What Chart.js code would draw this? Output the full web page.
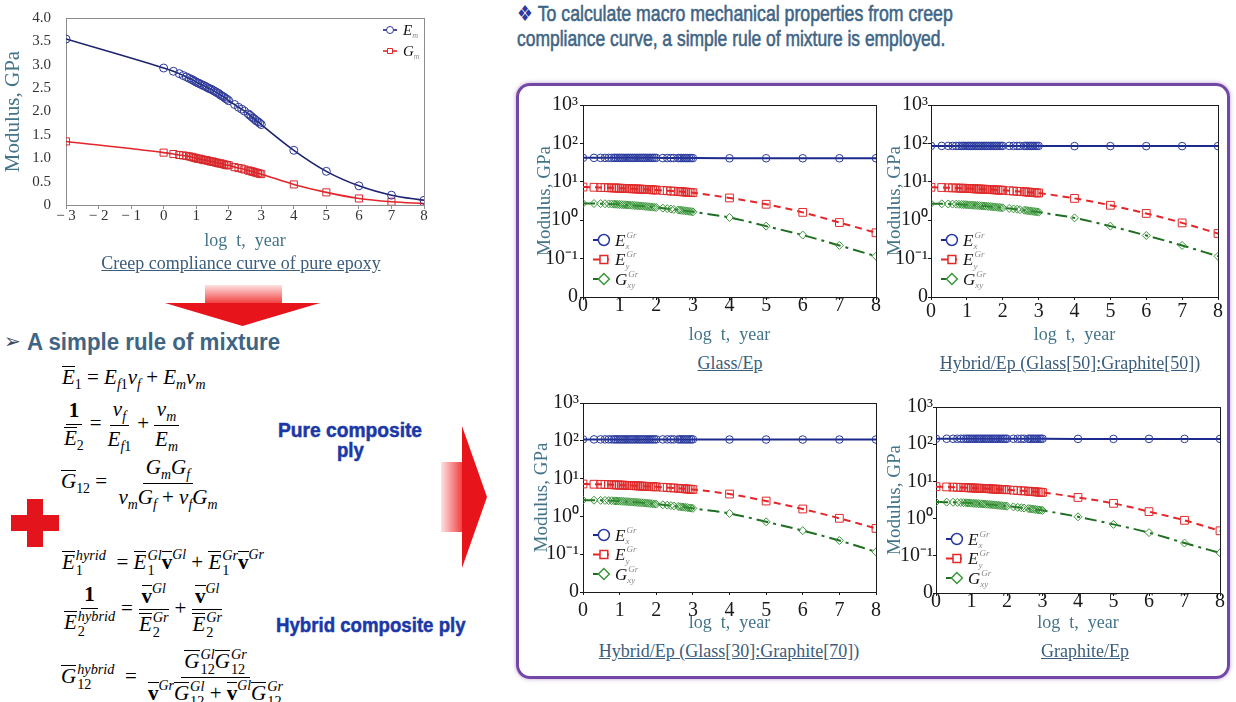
<!DOCTYPE html>
<html>
<head>
<meta charset="utf-8">
<script src="https://cdn.jsdelivr.net/npm/chart.js@4.4.1/dist/chart.umd.min.js"></script>
<style>
  body { margin: 0; width: 1236px; height: 702px; position: relative; overflow: hidden; background: #fff; font-family: "Liberation Serif", serif; }
  canvas { position: absolute; }
  .abs { position: absolute; }
  .fit { position: absolute; white-space: nowrap; line-height: 1; transform-origin: 0 0; font-family: "Liberation Sans", Arial, sans-serif; }
  .head { color: #3f6585; font-size: 22px; -webkit-text-stroke: 0.6px #3f6585; }
  .ply { color: #1b38a8; font-size: 20px; font-weight: bold; -webkit-text-stroke: 0.5px #1b38a8; }
  .cap { position: absolute; width: 400px; text-align: center; font-size: 18px; color: #3b5d7b; text-decoration: underline; white-space: nowrap; }
  .eq { position: absolute; font-size: 21px; color: #000; white-space: nowrap; line-height: 1; }
  .ob { display: inline-block; border-top: 1px solid #000; line-height: 0.95; padding-top: 1px; font-style: italic; }
  b.ob { font-style: normal; }
  .eq sub { font-size: 0.66em; vertical-align: -0.35em; }
  .eq sup { font-size: 0.66em; vertical-align: 0.7em; }
  .fr { display: inline-flex; flex-direction: column; align-items: center; vertical-align: middle; margin: 0 3px; }
  .fr > span { padding: 0 3px; line-height: 1.25; }
  .fr > span:first-child { border-bottom: 1px solid #000; }
  .tight > span { line-height: 1.12; }
  .ss { display: inline-flex; flex-direction: column; font-size: 0.68em; line-height: 1.05; vertical-align: 0.6em; margin-left: 1px; }
  .box { position: absolute; left: 516px; top: 83px; width: 708px; height: 590px; border: 3px solid #7447a6; border-radius: 14px; box-shadow: 0 0 4px rgba(116,71,166,0.5); }
</style>
</head>
<body>

<!-- headings -->
<div class="fit head" style="left:517px;top:3px;" data-fit="436"><span style="color:#2b3aa0;-webkit-text-stroke:0;">&#10070;</span> To calculate macro mechanical properties from creep</div>
<div class="fit head" style="left:517px;top:28px;" data-fit="428">compliance curve, a simple rule of mixture is employed.</div>
<div class="fit" style="left:4px;top:331px;font-size:20px;color:#3a4a60;">&#10146;</div>
<div class="fit head" style="left:27px;top:331px;font-size:23px;font-weight:bold;-webkit-text-stroke:0;" data-fit="253">A simple rule of mixture</div>

<!-- arrows and cross -->
<div class="abs" style="left:205px;top:285px;width:77px;height:19px;background:linear-gradient(#fde2e2,#f23a3a);"></div>
<div class="abs" style="left:165px;top:303px;width:155px;height:23px;background:#e8141c;clip-path:polygon(0 0,100% 0,50% 100%);"></div>
<div class="abs" style="left:441px;top:462px;width:22px;height:70px;background:linear-gradient(90deg,#fde2e2,#f23a3a);"></div>
<div class="abs" style="left:462px;top:426px;width:25px;height:142px;background:#e8141c;clip-path:polygon(0 0,100% 50%,0 100%);"></div>
<div class="abs" style="left:27px;top:499px;width:16px;height:48px;background:#e3141c;"></div>
<div class="abs" style="left:11px;top:515px;width:48px;height:16px;background:#e3141c;"></div>

<!-- formulas -->
<div class="eq" style="left:62px;top:366px;">
  <span class="ob">E</span><sub>1</sub> = <i>E</i><sub><i>f</i>1</sub><i>v</i><sub><i>f</i></sub> + <i>E</i><sub><i>m</i></sub><i>v</i><sub><i>m</i></sub>
</div>
<div class="eq" style="left:58px;top:396px;">
  <span class="fr"><span><b>1</b></span><span><span class="ob">E</span><sub>2</sub></span></span>=<span class="fr"><span><i>v</i><sub><i>f</i></sub></span><span><i>E</i><sub><i>f</i>1</sub></span></span>+<span class="fr"><span><i>v</i><sub><i>m</i></sub></span><span><i>E</i><sub><i>m</i></sub></span></span>
</div>
<div class="eq" style="left:61px;top:454px;">
  <span class="ob">G</span><sub>12</sub> = <span class="fr"><span><i>G</i><sub><i>m</i></sub><i>G</i><sub><i>f</i></sub></span><span><i>v</i><sub><i>m</i></sub><i>G</i><sub><i>f</i></sub> + <i>v</i><sub><i>f</i></sub><i>G</i><sub><i>m</i></sub></span></span>
</div>
<div class="eq" style="left:62px;top:548px;">
  <span class="ob">E</span><span class="ss"><i>hyrid</i><span>1</span></span> &nbsp;= <span class="ob">E</span><span class="ss"><i>Gl</i><span>1</span></span><b class="ob">v</b><sup><i>Gl</i></sup> + <span class="ob">E</span><span class="ss"><i>Gr</i><span>1</span></span><b class="ob">v</b><sup><i>Gr</i></sup>
</div>
<div class="eq" style="left:58px;top:580px;">
  <span class="fr"><span><b>1</b></span><span><span class="ob">E</span><span class="ss"><i>hybrid</i><span>2</span></span></span></span>=<span class="fr"><span><b class="ob">v</b><sup><i>Gl</i></sup></span><span><span class="ob">E</span><span class="ss"><i>Gr</i><span>2</span></span></span></span>+<span class="fr"><span><b class="ob">v</b><sup><i>Gl</i></sup></span><span><span class="ob">E</span><span class="ss"><i>Gr</i><span>2</span></span></span></span>
</div>
<div class="eq" style="left:61px;top:647px;">
  <span class="ob">G</span><span class="ss"><i>hybrid</i><span>12</span></span> &nbsp;= <span class="fr tight"><span><span class="ob">G</span><span class="ss"><i>Gl</i><span>12</span></span><span class="ob">G</span><span class="ss"><i>Gr</i><span>12</span></span></span><span><b class="ob">v</b><sup><i>Gr</i></sup><span class="ob">G</span><span class="ss"><i>Gl</i><span>12</span></span> + <b class="ob">v</b><sup><i>Gl</i></sup><span class="ob">G</span><span class="ss"><i>Gr</i><span>12</span></span></span></span>
</div>

<div class="fit ply" style="left:278px;top:420px;" data-fit="144">Pure composite</div>
<div class="fit ply" style="left:337px;top:440px;" data-fit="27">ply</div>
<div class="fit ply" style="left:276px;top:614px;font-size:21px;" data-fit="190">Hybrid composite ply</div>

<div class="box"></div>

<canvas id="epoxyChart"></canvas>
<canvas id="glassChart"></canvas>
<canvas id="hyb50Chart"></canvas>
<canvas id="hyb30Chart"></canvas>
<canvas id="graphiteChart"></canvas>

<div class="cap" style="left:41px;top:253px;">Creep compliance curve of pure epoxy</div>
<div class="cap" style="left:530px;top:353px;">Glass/Ep</div>
<div class="cap" style="left:870px;top:353px;">Hybrid/Ep (Glass[50]:Graphite[50])</div>
<div class="cap" style="left:529px;top:641px;">Hybrid/Ep (Glass[30]:Graphite[70])</div>
<div class="cap" style="left:885px;top:641px;">Graphite/Ep</div>

<script>
// condensed headline text: squeeze each line to its width in the slide
document.querySelectorAll('[data-fit]').forEach(el => {
  const k = (+el.dataset.fit) / el.scrollWidth;
  el.style.transform = 'scaleX(' + k + ')';
});

// ---- pure epoxy creep curve ----
const epoxyLogT = [-3, 0, 0.3, 0.48, 0.6, 0.7, 0.78, 0.85,
  0.9, 0.95, 1.0, 1.05, 1.1, 1.15, 1.2, 1.25, 1.3, 1.35, 1.4, 1.45, 1.5, 1.55, 1.6, 1.65, 1.7, 1.75, 1.8, 1.85, 1.9, 1.95, 2.0,
  2.18, 2.3, 2.4, 2.48, 2.6, 2.65, 2.7, 2.75, 2.8, 2.85, 2.9, 2.95, 3.0, 4, 5, 6, 7, 8];
const epoxyEm = [3.55, 2.93, 2.86, 2.81, 2.77, 2.74, 2.71, 2.69,
  2.67, 2.65, 2.63, 2.61, 2.60, 2.58, 2.56, 2.55, 2.53, 2.51, 2.49, 2.48, 2.46, 2.44, 2.42, 2.40, 2.38, 2.35, 2.33, 2.31, 2.28, 2.26, 2.23,
  2.15, 2.09, 2.05, 2.01, 1.95, 1.92, 1.89, 1.86, 1.83, 1.80, 1.78, 1.75, 1.72, 1.17, 0.72, 0.41, 0.21, 0.10];
const epoxyGm = [1.36, 1.12, 1.09, 1.07, 1.06, 1.05, 1.04, 1.03,
  1.02, 1.01, 1.00, 0.99, 0.99, 0.98, 0.97, 0.96, 0.96, 0.95, 0.94, 0.93, 0.93, 0.92, 0.91, 0.90, 0.89, 0.89, 0.88, 0.87, 0.86, 0.85, 0.85,
  0.81, 0.79, 0.78, 0.76, 0.74, 0.73, 0.72, 0.71, 0.70, 0.69, 0.68, 0.67, 0.66, 0.44, 0.27, 0.14, 0.07, 0.03];
const epoxyXLabels = ['\u2212 3', '\u2212 2', '\u2212 1', '0', '1', '2', '3', '4', '5', '6', '7', '8'];
const epoxyYLabels = ['0', '0.5', '1.0', '1.5', '2.0', '2.5', '3.0', '3.5', '4.0'];

// ---- composite plies (log scale) ----
const plyLogT = [0, 0.3, 0.48, 0.6, 0.7, 0.78, 0.85,
  0.9, 0.95, 1.0, 1.05, 1.1, 1.15, 1.2, 1.25, 1.3, 1.35, 1.4, 1.45, 1.5, 1.55, 1.6, 1.65, 1.7, 1.75, 1.8, 1.85, 1.9, 1.95, 2.0,
  2.18, 2.3, 2.4, 2.48, 2.6, 2.65, 2.7, 2.75, 2.8, 2.85, 2.9, 2.95, 3.0, 4, 5, 6, 7, 8];
const plyXLabels = ['0', '1', '2', '3', '4', '5', '6', '7', '8'];
const plyYTicks = [0.01, 0.1, 1, 10, 100, 1000];
const plyYLabels = ['0', '10\u207B\u00B9', '10\u2070', '10\u00B9', '10\u00B2', '10\u00B3'];

const glassEx = [42, 42, 42, 42, 42, 42, 42, 42, 42, 42, 42, 42, 42, 42, 42, 42, 42, 42, 42, 42, 42, 42, 42, 42,
  42, 42, 42, 42, 42, 42, 41.5, 41.5, 41.5, 41.5, 41.5, 41.5, 41.5, 41.5, 41.5, 41.5, 41.5, 41.5, 41.5, 41, 41, 41, 41, 41];
const glassEy = [7.3, 7.2, 7.1, 7.05, 7.0, 6.95, 6.9,
  6.9, 6.85, 6.8, 6.78, 6.75, 6.72, 6.7, 6.65, 6.6, 6.58, 6.55, 6.52, 6.5, 6.45, 6.4, 6.38, 6.35, 6.3, 6.25, 6.22, 6.2, 6.15, 6.1,
  5.95, 5.85, 5.75, 5.7, 5.6, 5.55, 5.5, 5.45, 5.4, 5.35, 5.3, 5.25, 5.2, 3.8, 2.6, 1.6, 0.87, 0.47];
const glassGxy = [2.75, 2.72, 2.7, 2.68, 2.66, 2.64, 2.62,
  2.6, 2.58, 2.57, 2.55, 2.53, 2.52, 2.5, 2.48, 2.46, 2.44, 2.42, 2.4, 2.38, 2.36, 2.34, 2.32, 2.29, 2.27, 2.24, 2.22, 2.19, 2.17, 2.14,
  2.06, 2.0, 1.95, 1.91, 1.85, 1.83, 1.8, 1.78, 1.75, 1.73, 1.7, 1.68, 1.65, 1.18, 0.70, 0.41, 0.22, 0.115];

const hyb50Ex = [86, 86, 86, 86, 86, 86, 86, 86, 86, 86, 86, 86, 86, 86, 86, 86, 86, 86, 86, 86, 86, 86, 86, 86,
  86, 86, 86, 86, 86, 86, 86, 86, 86, 86, 86, 86, 86, 86, 86, 86, 86, 86, 86, 85, 85, 85, 85, 85];
const hyb50Ey = [7.2, 7.1, 7.0, 6.95, 6.9, 6.85, 6.8,
  6.8, 6.75, 6.7, 6.68, 6.65, 6.62, 6.6, 6.55, 6.5, 6.48, 6.45, 6.42, 6.4, 6.35, 6.3, 6.28, 6.25, 6.2, 6.15, 6.12, 6.1, 6.05, 6.0,
  5.85, 5.75, 5.65, 5.6, 5.5, 5.45, 5.4, 5.35, 5.3, 5.25, 5.2, 5.15, 5.1, 3.7, 2.45, 1.5, 0.85, 0.45];
const hyb50Gxy = [2.7, 2.67, 2.65, 2.63, 2.61, 2.59, 2.57,
  2.55, 2.54, 2.52, 2.5, 2.48, 2.47, 2.45, 2.43, 2.41, 2.39, 2.37, 2.35, 2.33, 2.31, 2.29, 2.27, 2.25, 2.22, 2.2, 2.17, 2.15, 2.12, 2.1,
  2.02, 1.97, 1.92, 1.88, 1.82, 1.8, 1.77, 1.75, 1.72, 1.7, 1.67, 1.65, 1.62, 1.15, 0.70, 0.40, 0.22, 0.115];

const hyb30Ex = [109, 109, 109, 109, 109, 109, 109, 109, 109, 109, 109, 109, 109, 109, 109, 109, 109, 109, 109, 109, 109, 109, 109, 109,
  109, 109, 109, 109, 109, 109, 109, 109, 109, 109, 109, 109, 109, 109, 109, 109, 109, 109, 109, 108, 108, 108, 108, 108];
const hyb30Ey = [7.2, 7.1, 7.05, 7.0, 6.95, 6.9, 6.85,
  6.8, 6.78, 6.75, 6.72, 6.7, 6.65, 6.6, 6.58, 6.55, 6.52, 6.5, 6.45, 6.4, 6.38, 6.35, 6.3, 6.25, 6.22, 6.2, 6.15, 6.1, 6.08, 6.05,
  5.9, 5.8, 5.7, 5.65, 5.55, 5.5, 5.45, 5.4, 5.35, 5.3, 5.25, 5.2, 5.15, 3.9, 2.55, 1.57, 0.89, 0.48];
const hyb30Gxy = [2.7, 2.68, 2.66, 2.64, 2.62, 2.6, 2.58,
  2.56, 2.55, 2.53, 2.52, 2.5, 2.48, 2.46, 2.44, 2.42, 2.4, 2.38, 2.36, 2.34, 2.32, 2.3, 2.28, 2.26, 2.23, 2.21, 2.18, 2.16, 2.13, 2.11,
  2.03, 1.98, 1.93, 1.89, 1.83, 1.81, 1.78, 1.76, 1.73, 1.71, 1.68, 1.66, 1.63, 1.2, 0.72, 0.42, 0.23, 0.115];

const graphiteEx = [140, 140, 140, 140, 140, 140, 140, 140, 140, 140, 140, 140, 140, 140, 140, 140, 140, 140, 140, 140, 140, 140, 140, 140,
  140, 140, 140, 140, 140, 140, 140, 140, 140, 140, 140, 140, 140, 140, 140, 140, 140, 140, 140, 139, 139, 139, 139, 139];
const graphiteEy = [7.2, 7.1, 7.0, 6.95, 6.9, 6.85, 6.8,
  6.75, 6.72, 6.7, 6.65, 6.6, 6.58, 6.55, 6.52, 6.5, 6.45, 6.4, 6.38, 6.35, 6.3, 6.25, 6.22, 6.2, 6.15, 6.1, 6.08, 6.05, 6.0, 5.95,
  5.8, 5.7, 5.6, 5.55, 5.45, 5.4, 5.35, 5.3, 5.25, 5.2, 5.15, 5.1, 5.05, 3.7, 2.57, 1.54, 0.9, 0.47];
const graphiteGxy = [2.8, 2.77, 2.75, 2.72, 2.7, 2.68, 2.66,
  2.64, 2.62, 2.6, 2.58, 2.56, 2.54, 2.52, 2.5, 2.48, 2.46, 2.44, 2.42, 2.4, 2.38, 2.35, 2.33, 2.3, 2.28, 2.25, 2.23, 2.2, 2.18, 2.15,
  2.07, 2.01, 1.96, 1.92, 1.86, 1.84, 1.81, 1.79, 1.76, 1.74, 1.71, 1.69, 1.66, 1.12, 0.70, 0.42, 0.22, 0.12];

Chart.defaults.font.family = '"Liberation Serif", "Times New Roman", serif';
const titleColor = '#44748a';

// box around the plot area
const plotFrame = {
  id: 'plotFrame',
  beforeDatasetsDraw(chart, args, o) {
    const a = chart.chartArea, c = chart.ctx;
    c.save();
    c.strokeStyle = o.color;
    c.lineWidth = 1;
    c.strokeRect(Math.round(a.left) + 0.5, Math.round(a.top) + 0.5, Math.round(a.right - a.left), Math.round(a.bottom - a.top));
    c.restore();
  }
};

// legend drawn inside the plot area
const inlineLegend = {
  id: 'inlineLegend',
  afterDraw(chart, args, o) {
    const c = chart.ctx, a = chart.chartArea;
    chart.data.datasets.forEach((ds, i) => {
      const x = a.left + o.x, y = a.top + o.y + i * o.gap;
      c.save();
      c.strokeStyle = ds.borderColor;
      c.lineWidth = ds.borderWidth;
      c.setLineDash(ds.borderDash || []);
      c.beginPath(); c.moveTo(x, y); c.lineTo(x + o.len, y); c.stroke();
      c.setLineDash([]);
      c.strokeStyle = ds.pointBorderColor;
      c.fillStyle = '#fff';
      c.lineWidth = o.pw;
      Chart.helpers.drawPoint(c, { pointStyle: ds.pointStyle, radius: o.r, borderWidth: o.pw, rotation: 0 }, x + o.len * o.mk, y);
      const tx = x + o.len + o.tg, by = y + o.size * 0.33;
      c.fillStyle = '#111';
      c.font = 'italic ' + o.size + 'px "Liberation Serif"';
      c.fillText(ds.sym, tx, by);
      const w = c.measureText(ds.sym).width;
      c.font = 'italic ' + Math.round(o.size * 0.55) + 'px "Liberation Serif"';
      c.fillStyle = '#8a8a8a';
      if (ds.sup) c.fillText(ds.sup, tx + w + 1, by - o.size * 0.45);
      if (ds.sub) c.fillText(ds.sub, tx + w, by + o.size * 0.22);
      c.restore();
    });
  }
};

function pts(xs, ys) { return xs.map((x, i) => ({ x: x, y: ys[i] })); }

// ---- chart 1: pure epoxy ----
(function () {
  const plot = { l: 66, t: 7, r: 424, b: 205 };
  const yw = 66, padTop = 13, padRight = 16, xh = 50;
  const cv = document.getElementById('epoxyChart');
  const left = plot.l - yw, top = plot.t - padTop;
  const w = plot.r - left + padRight, h = plot.b - top + xh;
  cv.width = w; cv.height = h;
  Object.assign(cv.style, { left: left + 'px', top: top + 'px', width: w + 'px', height: h + 'px' });
  new Chart(cv, {
    type: 'line',
    data: {
      datasets: [
        { label: 'Em', sym: 'E', sub: 'm', data: pts(epoxyLogT, epoxyEm), borderColor: '#1c2270', borderWidth: 1.6,
          pointStyle: 'circle', pointRadius: 4, pointBorderWidth: 1, pointBorderColor: '#2c3898',
          pointBackgroundColor: 'rgba(255,255,255,0)', cubicInterpolationMode: 'monotone' },
        { label: 'Gm', sym: 'G', sub: 'm', data: pts(epoxyLogT, epoxyGm), borderColor: '#e3262b', borderWidth: 1.6,
          pointStyle: 'rect', pointRadius: 5, pointBorderWidth: 1, pointBorderColor: '#d8282c',
          pointBackgroundColor: 'rgba(255,255,255,0)', cubicInterpolationMode: 'monotone' }
      ]
    },
    options: {
      responsive: false, animation: false,
      layout: { padding: { top: padTop, right: padRight, left: 0, bottom: 0 } },
      plugins: {
        legend: { display: false }, tooltip: { enabled: false },
        plotFrame: { color: '#8c8c8c' },
        inlineLegend: { x: 317, y: 12, gap: 21, len: 14, mk: 0.5, r: 3.5, pw: 1, tg: 6, size: 15 }
      },
      scales: {
        x: {
          type: 'linear', min: -3, max: 8,
          ticks: { stepSize: 1, color: '#333', font: { size: 15, lineHeight: 1 }, padding: 0, maxRotation: 0,
                   callback: (v, i) => epoxyXLabels[i] },
          grid: { display: true, drawOnChartArea: false, tickLength: 4, color: '#8c8c8c' },
          border: { color: '#8c8c8c' },
          title: { display: true, text: 'log  t,  year', color: titleColor, font: { size: 18, lineHeight: 1 },
                   padding: { bottom: (top + h - 241) - 9, top: 0 } },
          afterFit: s => { s.height = xh; }
        },
        y: {
          type: 'linear', min: 0, max: 4,
          ticks: { stepSize: 0.5, color: '#333', font: { size: 15 }, padding: 15, callback: (v, i) => epoxyYLabels[i] },
          grid: { display: false, drawTicks: false },
          border: { color: '#8c8c8c' },
          title: { display: true, text: 'Modulus, GPa', color: titleColor, font: { size: 21, lineHeight: 1 },
                   padding: { top: (13 - left) - 10.5, bottom: 0 } },
          afterFit: s => { s.width = yw; }
        }
      }
    },
    plugins: [plotFrame, inlineLegend]
  });
})();

// ---- charts 2-5: composite plies ----
function buildPly(id, plot, ex, ey, gxy, t) {
  const padTop = 15, padRight = 10;
  const cv = document.getElementById(id);
  const left = plot.l - t.yw, top = plot.t - padTop;
  const w = plot.r - left + padRight, h = plot.b - top + t.xh;
  cv.width = w; cv.height = h;
  Object.assign(cv.style, { left: left + 'px', top: top + 'px', width: w + 'px', height: h + 'px' });
  new Chart(cv, {
    type: 'line',
    data: {
      datasets: [
        { label: 'Ex', sym: 'E', sup: 'Gr', sub: 'x', data: pts(plyLogT, ex), borderColor: '#1b2a8c', borderWidth: 2,
          pointStyle: 'circle', pointRadius: 3.8, pointBorderWidth: 1, pointBorderColor: '#2a3a9e',
          pointBackgroundColor: 'rgba(255,255,255,0)' },
        { label: 'Ey', sym: 'E', sup: 'Gr', sub: 'y', data: pts(plyLogT, ey), borderColor: '#e4252a', borderWidth: 2,
          borderDash: [7, 5], pointStyle: 'rect', pointRadius: 5.5, pointBorderWidth: 1, pointBorderColor: '#e02a2a',
          pointBackgroundColor: 'rgba(255,255,255,0)', cubicInterpolationMode: 'monotone' },
        { label: 'Gxy', sym: 'G', sup: 'Gr', sub: 'xy', data: pts(plyLogT, gxy), borderColor: '#1f6e22', borderWidth: 2,
          borderDash: [12, 5, 3, 5], pointStyle: 'rectRot', pointRadius: 4, pointBorderWidth: 1, pointBorderColor: '#3a963a',
          pointBackgroundColor: 'rgba(255,255,255,0)', cubicInterpolationMode: 'monotone' }
      ]
    },
    options: {
      responsive: false, animation: false,
      layout: { padding: { top: padTop, right: padRight, left: 0, bottom: 0 } },
      plugins: {
        legend: { display: false }, tooltip: { enabled: false },
        plotFrame: { color: '#1a1a1a' },
        inlineLegend: { x: 10, y: t.legY, gap: 19.5, len: 16, mk: 0.68, r: 5.5, pw: 1.5, tg: 6, size: 17 }
      },
      scales: {
        x: {
          type: 'linear', min: 0, max: 8,
          ticks: { stepSize: 1, color: '#1a1a1a', font: { size: 20, lineHeight: 1 }, padding: t.xPad, maxRotation: 0,
                   callback: (v, i) => plyXLabels[i] },
          grid: { display: true, drawOnChartArea: false, tickLength: 3, color: '#1a1a1a' },
          border: { color: '#1a1a1a' },
          title: { display: true, text: 'log  t,  year', color: titleColor, font: { size: 18, lineHeight: 1 },
                   padding: { bottom: (top + h - t.xTitle) - 9, top: 0 } },
          afterFit: s => { s.height = t.xh; }
        },
        y: {
          type: 'logarithmic', min: 0.01, max: 1000,
          afterBuildTicks: s => { s.ticks = plyYTicks.map(v => ({ value: v })); },
          ticks: { color: '#1a1a1a', font: { size: 20 }, padding: t.yPad, callback: (v, i) => plyYLabels[i] },
          grid: { display: true, drawOnChartArea: false, tickLength: 3, color: '#1a1a1a' },
          border: { color: '#1a1a1a' },
          title: { display: true, text: 'Modulus, GPa', color: titleColor, font: { size: 19, lineHeight: 1 },
                   padding: { top: (t.yTitle - left) - 9.5, bottom: 0 } },
          afterFit: s => { s.width = t.yw; }
        }
      }
    },
    plugins: [plotFrame, inlineLegend]
  });
}

buildPly('glassChart', { l: 583, t: 105, r: 876, b: 297 }, glassEx, glassEy, glassGxy,
  { yw: 63, xh: 55, xPad: -4, yPad: 2, xTitle: 335, yTitle: 545, legY: 135 });
buildPly('hyb50Chart', { l: 931, t: 105, r: 1218, b: 297 }, hyb50Ex, hyb50Ey, hyb50Gxy,
  { yw: 51, xh: 55, xPad: 2, yPad: 0, xTitle: 335, yTitle: 895, legY: 135 });
buildPly('hyb30Chart', { l: 583, t: 403, r: 877, b: 592 }, hyb30Ex, hyb30Ey, hyb30Gxy,
  { yw: 63, xh: 45, xPad: 6, yPad: 1, xTitle: 623, yTitle: 542, legY: 132 });
buildPly('graphiteChart', { l: 936, t: 407, r: 1220, b: 593 }, graphiteEx, graphiteEy, graphiteGxy,
  { yw: 56, xh: 45, xPad: -4, yPad: 0, xTitle: 623, yTitle: 895, legY: 132 });
</script>
</body>
</html>
